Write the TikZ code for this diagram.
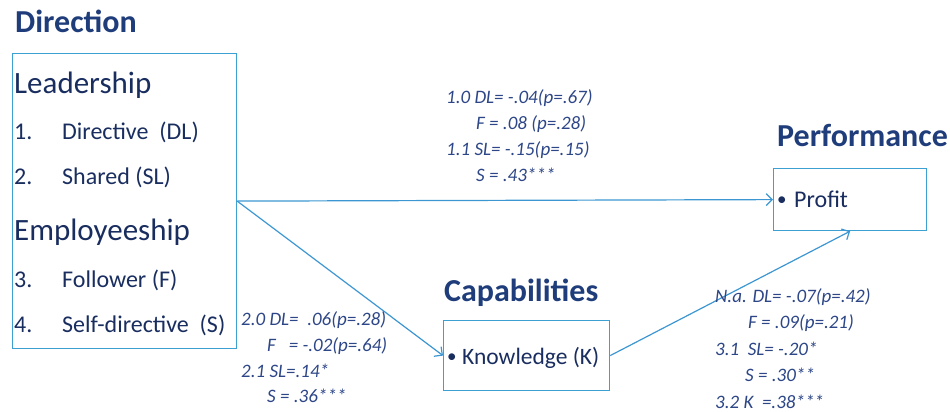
\documentclass[tikz,border=0pt]{standalone}
\usepackage{fontspec}
\setmainfont{Carlito}
\usetikzlibrary{arrows.meta}
\definecolor{titlecol}{RGB}{31,61,122}
\definecolor{textcol}{RGB}{25,45,95}
\definecolor{labcol}{RGB}{45,70,135}
\definecolor{boxcol}{RGB}{60,160,210}
\definecolor{arrcol}{RGB}{60,150,210}
\tikzset{
  boxnode/.style={draw=boxcol, line width=1.2pt, inner sep=0pt, anchor=north west},
  title/.style={font=\fontsize{32}{33}\selectfont\bfseries, text=titlecol, anchor=base west, inner sep=0pt},
  head/.style={font=\fontsize{31}{32}\selectfont, text=textcol, anchor=base west, inner sep=0pt},
  item/.style={font=\fontsize{24}{25}\selectfont, text=textcol, anchor=base west, inner sep=0pt},
  bul/.style={font=\fontsize{19}{20}\selectfont, text=textcol, anchor=base west, inner sep=0pt},
  lab/.style={font=\fontsize{19}{20}\selectfont\itshape, text=labcol, anchor=base west, inner sep=0pt},
  conn/.style={draw=arrcol, line width=1.2pt, -{Straight Barb[length=6pt,width=12pt,line width=1.2pt]}},
}
\begin{document}
\begin{tikzpicture}[x=1pt,y=-1pt]
\useasboundingbox (0,0) rectangle (950,412);
% boxes
\node[boxnode, minimum width=224pt, minimum height=295pt] (dir) at (12,53) {};
\node[boxnode, minimum width=153pt, minimum height=62pt] (perf) at (773,168) {};
\node[boxnode, minimum width=166pt, minimum height=70pt] (cap) at (443,320) {};
% titles
\node[title] (tdir) at (15,33) {Direction};
\node[title] (tperf) at (777,146) {Performance};
\node[title] (tcap) at (444,301) {Capabilities};
% direction box content
\node[head] (lead) at (14,93) {Leadership};
\node[item] (n1) at (14,139) {1.};
\node[item] (i1) at (62,139) {Directive\ \ (DL)};
\node[item] (n2) at (14,184) {2.};
\node[item] (i2) at (62,184) {Shared (SL)};
\node[head] (emp) at (14,240) {Employeeship};
\node[item] (n3) at (14,287) {3.};
\node[item] (i3) at (62,287) {Follower (F)};
\node[item] (n4) at (14,332) {4.};
\node[item] (i4) at (62,332) {Self-directive\ \ (S)};
% performance / capabilities content
\node[bul] (b1) at (777,205) {\textbullet};
\node[item] (prof) at (794,207) {Profit};
\node[bul] (b2) at (447,362) {\textbullet};
\node[item, font=\fontsize{23.5}{24}\selectfont] (know) at (462,364) {Knowledge (K)};
% connectors
\draw[conn] (dir.east) -- (perf.west);
\draw[conn] (dir.east) -- (cap.west);
\draw[conn] (cap.east) -- (perf.south);
% labels group 1
\node[lab] (g1a) at (446,103) {1.0 DL= -.04(p=.67)};
\node[lab] (g1b) at (476,129) {F\ = .08 (p=.28)};
\node[lab] (g1c) at (446,155) {1.1 SL= -.15(p=.15)};
\node[lab] (g1d) at (476,181) {S\ = .43***};
% labels group 2
\node[lab] (g2a) at (241,325) {2.0 DL=\ \ .06(p=.28)};
\node[lab] (g2b) at (267,351) {F\ \ \ = -.02(p=.64)};
\node[lab] (g2c) at (241,377) {2.1 SL=.14*};
\node[lab] (g2d) at (267,402) {S\ = .36***};
% labels group 3
\node[lab] (g3a) at (715,302) {N.a. DL= -.07(p=.42)};
\node[lab] (g3b) at (748,328) {F\ = .09(p=.21)};
\node[lab] (g3c) at (715,355) {3.1\ \ SL= -.20*};
\node[lab] (g3d) at (745,381) {S\ = .30**};
\node[lab] (g3e) at (715,408) {3.2 K\ \ =.38***};
\end{tikzpicture}
\end{document}
